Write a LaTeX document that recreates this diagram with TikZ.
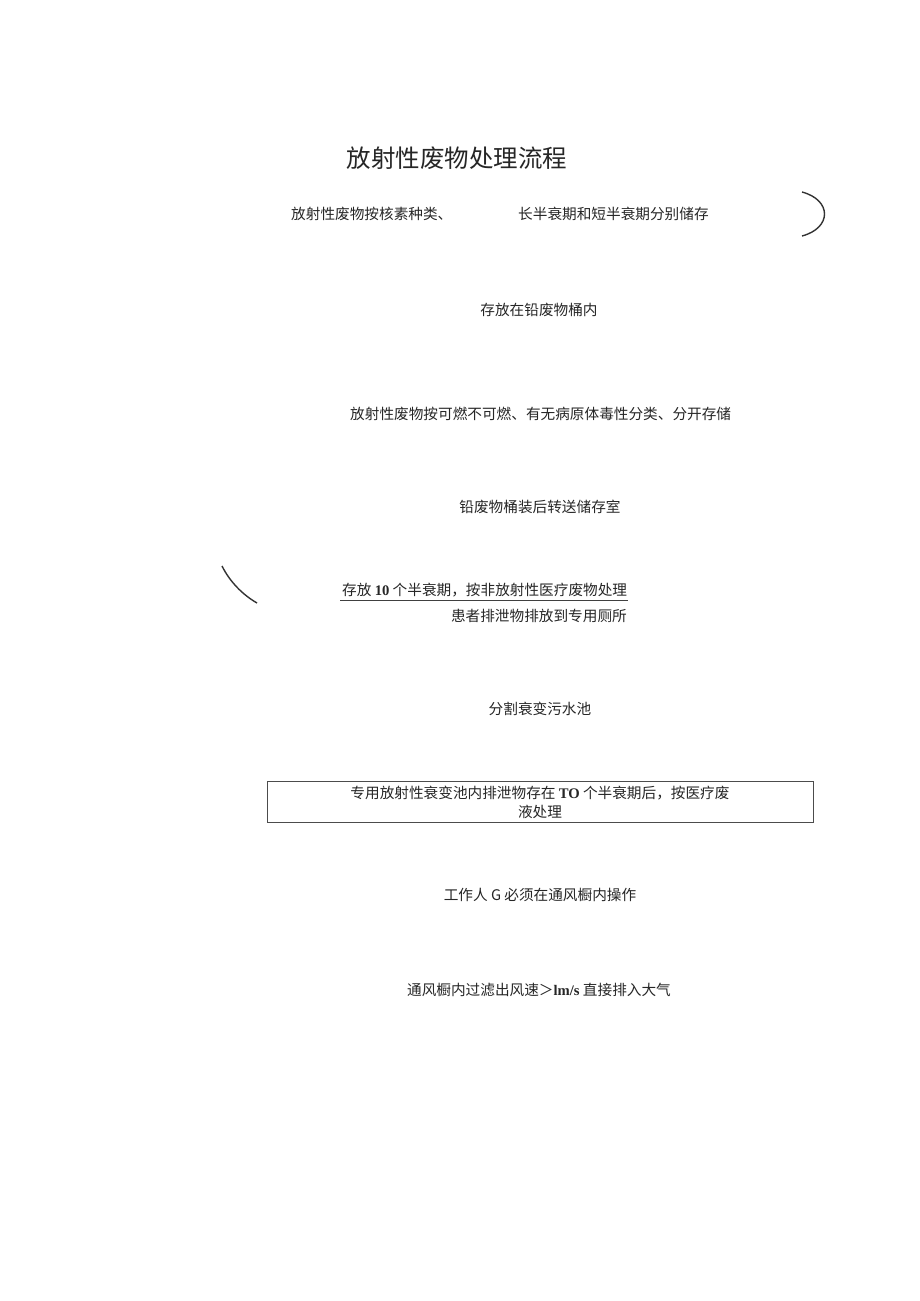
\documentclass[tikz,border=0pt]{standalone}
\usepackage{fontspec}
\setmainfont{Noto Sans CJK SC}
\newfontfamily\latb{Liberation Serif}
\newcommand{\bl}[1]{{\latb\bfseries #1}}
\begin{document}
\begin{tikzpicture}[x=1pt,y=-1pt,
  txt/.style={inner sep=0pt,font=\fontsize{14.65}{17.5}\selectfont,text=black!85},
  ttl/.style={inner sep=0pt,font=\fontsize{24.5}{29}\selectfont,text=black!85},
  arcline/.style={line width=1.4pt,black!80}]
\useasboundingbox (0,0) rectangle (920,1301);
\fill[white] (0,0) rectangle (920,1301);
\node[ttl] (title) at (457,158) {放射性废物处理流程};
\node[txt,anchor=west] (s1a) at (291,214) {放射性废物按核素种类、};
\node[txt,anchor=west] (s1b) at (518,214) {长半衰期和短半衰期分别储存};
\node[txt] (s2) at (539,310) {存放在铅废物桶内};
\node[txt,anchor=west] (s3) at (350,414) {放射性废物按可燃不可燃、有无病原体毒性分类、分开存储};
\node[txt] (s4) at (540,507) {铅废物桶装后转送储存室};
\node[txt,anchor=west] (s5) at (342,590) {存放 \bl{10} 个半衰期，按非放射性医疗废物处理};
\draw[black!75,line width=0.8pt] (340,600.5) -- (628,600.5);
\node[txt,anchor=east] (s6) at (627,616) {患者排泄物排放到专用厕所};
\node[txt] (s7) at (540,709) {分割衰变污水池};
\node[draw=black!70,line width=0.7pt,minimum width=546,minimum height=41,inner sep=0pt] (box) at (540,801.5) {};
\node[txt] (s8a) at (540,793) {专用放射性衰变池内排泄物存在 \bl{TO} 个半衰期后，按医疗废};
\node[txt] (s8b) at (540,812) {液处理};
\node[txt] (s9) at (540,895) {工作人 G 必须在通风橱内操作};
\node[txt] (s10) at (539,990) {通风橱内过滤出风速＞\bl{lm/s} 直接排入大气};
\draw[arcline] (802,192) .. controls (832,200) and (832,228) .. (802,236);
\draw[arcline] (222,566) .. controls (230,582) and (243,595) .. (257,603);
\end{tikzpicture}
\end{document}
